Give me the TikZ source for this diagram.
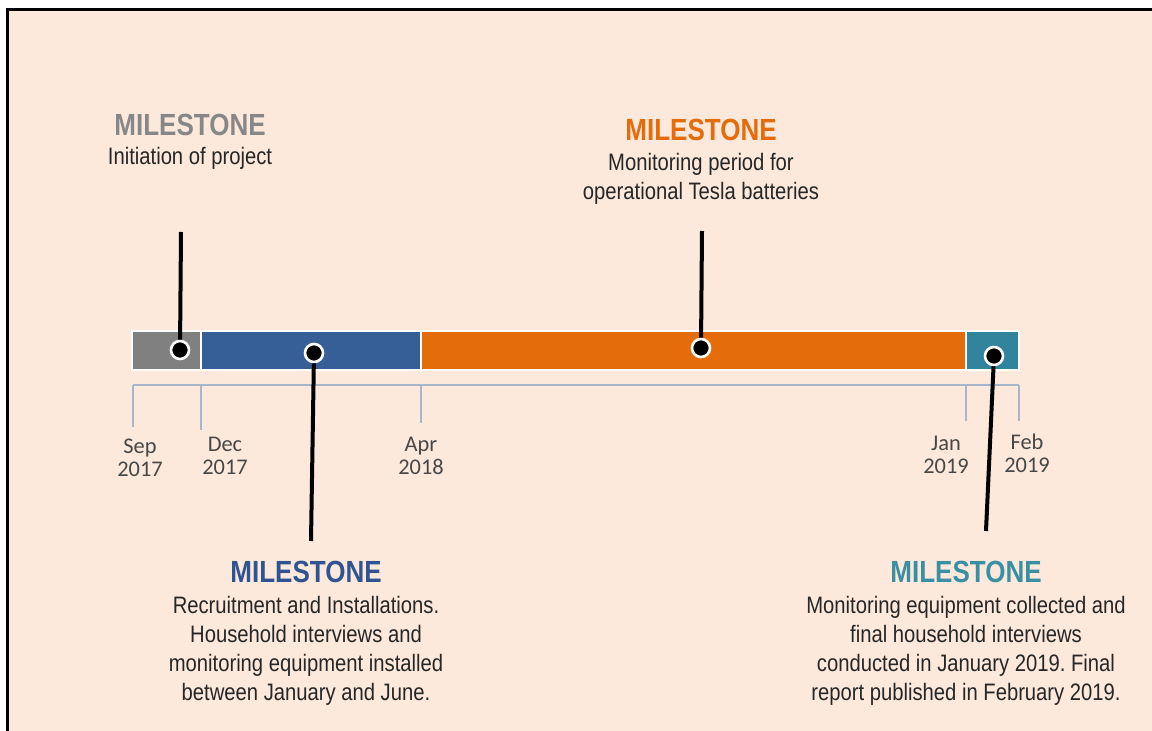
\documentclass[tikz,border=0pt]{standalone}
\usepackage{fontspec}
\setmainfont[FakeStretch=0.85]{Liberation Sans}
\newfontfamily\datefont{Carlito}
\frenchspacing
\definecolor{bgpeach}{HTML}{FCE9DC}
\definecolor{msgray}{HTML}{808080}
\definecolor{msblue}{HTML}{355F96}
\definecolor{msorange}{HTML}{E46C0A}
\definecolor{msteal}{HTML}{31849B}
\definecolor{hdgray}{HTML}{878787}
\definecolor{hdblue}{HTML}{2F5491}
\definecolor{hdteal}{HTML}{3A8FA3}
\definecolor{axiscol}{HTML}{A8B6CC}
\definecolor{bodytxt}{HTML}{262626}
\begin{document}
\begin{tikzpicture}[x=0.5pt,y=-0.5pt,
  bar/.style={draw=white,line width=1.1pt},
  axisline/.style={draw=axiscol,line width=0.75pt},
  stem/.style={draw=black,line width=2pt},
  dot/.style={circle,fill=black,draw=white,line width=1.3pt,minimum size=9pt,inner sep=0pt},
  head/.style={font=\fontsize{15.3}{17}\selectfont\bfseries,inner sep=0pt},
  body/.style={font=\fontsize{11.9}{14.5}\selectfont,text=bodytxt,align=center,inner sep=0pt},
  datelbl/.style={font=\datefont\fontsize{11.2}{11.5}\selectfont,text=bodytxt!85,align=center,inner sep=0pt}]
\useasboundingbox (0,0) rectangle (1152,731);
\fill[white] (0,0) rectangle (1152,731);
\fill[bgpeach] (7,10) rectangle (1152,731);
\draw[black,line width=1.5pt] (7,731) -- (7,10) -- (1152,10);

% axis and ticks
\coordinate (ax0) at (133,385);
\coordinate (ax1) at (1019,385);
\draw[axisline] (ax0) -- (ax1);
\draw[axisline] (133,385) -- (133,427);
\draw[axisline] (201,385) -- (201,430);
\draw[axisline] (421,385) -- (421,423);
\draw[axisline] (966,385) -- (966,421);
\draw[axisline] (1019,385) -- (1019,421);

\node[datelbl] (dsep) at (140,458) {Sep\\2017};
\node[datelbl] (ddec) at (225,456) {Dec\\2017};
\node[datelbl] (dapr) at (421,456) {Apr\\2018};
\node[datelbl] (djan) at (946,455) {Jan\\2019};
\node[datelbl] (dfeb) at (1027,453) {Feb\\2019};

% bars
\filldraw[bar,fill=msgray] (132,331) rectangle (201,370);
\filldraw[bar,fill=msblue] (201,331) rectangle (421,370);
\filldraw[bar,fill=msorange] (421,331) rectangle (966,370);
\filldraw[bar,fill=msteal] (966,331) rectangle (1019,370);

% stem ends
\coordinate (tgray) at (181,232);
\coordinate (tblue) at (311,541);
\coordinate (torange) at (702,231);
\coordinate (tteal) at (986,531);

% dots
\node[dot] (pgray) at (180,350) {};
\node[dot] (pblue) at (314,353) {};
\node[dot] (porange) at (701,348) {};
\node[dot] (pteal) at (994,356) {};

\draw[stem] (tgray) -- (pgray);
\draw[stem] (pblue) -- (tblue);
\draw[stem] (torange) -- (porange);
\draw[stem] (pteal) -- (tteal);

% texts
\node[head,text=hdgray] (hgray) at (190,125) {MILESTONE};
\node[body] (bgray) at (190,158) {Initiation of project};

\node[head,text=msorange] (horange) at (701,130) {MILESTONE};
\node[body] (borange) at (701,179) {Monitoring period for\\operational Tesla batteries};

\node[head,text=hdblue] (hblue) at (306,572) {MILESTONE};
\node[body] (bblue) at (306,651) {Recruitment and Installations.\\Household interviews and\\monitoring equipment installed\\between January and June.};

\node[head,text=hdteal] (hteal) at (966,572) {MILESTONE};
\node[body] (bteal) at (966,651) {Monitoring equipment collected and\\final household interviews\\conducted in January 2019. Final\\report published in February 2019.};
\end{tikzpicture}
\end{document}
